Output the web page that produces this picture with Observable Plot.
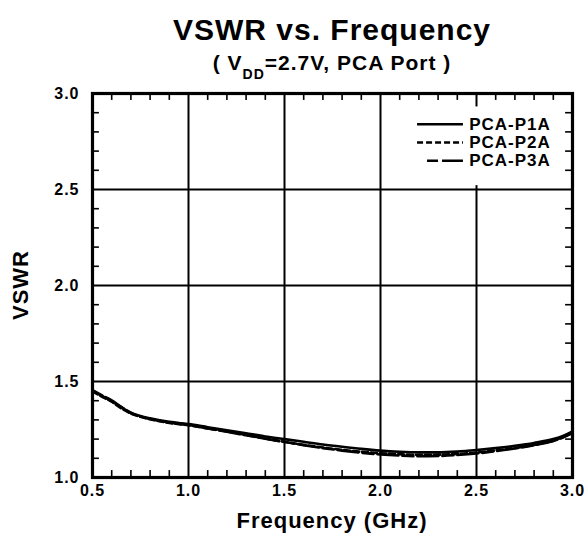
<!DOCTYPE html>
<html><head><meta charset="utf-8">
<script src="https://cdn.jsdelivr.net/npm/d3@7"></script>
<script src="https://cdn.jsdelivr.net/npm/@observablehq/plot@0.6"></script>
<style>
body{margin:0;background:#fff;}
#chart svg{font-family:"Liberation Sans",Arial,sans-serif;letter-spacing:1px;}
</style></head><body><div id="chart"></div>
<script>
// ---- data ----
const freq    = [0.5,0.55,0.6,0.65,0.7,0.75,0.8,0.85,0.9,0.95,1.0,1.1,1.2,1.3,1.4,1.5,1.6,1.7,1.8,1.9,2.0,2.1,2.2,2.3,2.4,2.5,2.6,2.7,2.8,2.9,2.95,3.0];
const vswrP1A = [1.452,1.425,1.398,1.365,1.338,1.320,1.308,1.298,1.290,1.284,1.278,1.262,1.246,1.230,1.214,1.200,1.186,1.172,1.160,1.149,1.140,1.134,1.131,1.131,1.135,1.143,1.153,1.165,1.180,1.200,1.216,1.240];
const vswrP2A = [1.448,1.420,1.395,1.360,1.333,1.316,1.303,1.293,1.284,1.278,1.272,1.256,1.240,1.222,1.203,1.186,1.170,1.156,1.144,1.134,1.126,1.121,1.118,1.119,1.123,1.130,1.141,1.154,1.170,1.192,1.210,1.235];
const vswrP3A = [1.455,1.428,1.402,1.368,1.336,1.318,1.305,1.295,1.286,1.279,1.273,1.255,1.238,1.220,1.202,1.185,1.168,1.153,1.140,1.129,1.120,1.114,1.111,1.112,1.117,1.125,1.137,1.151,1.168,1.190,1.208,1.232];
const seriesNames = ["PCA-P1A","PCA-P2A","PCA-P3A"];
const seriesValues = [vswrP1A, vswrP2A, vswrP3A];
const xTicks = [0.5,1.0,1.5,2.0,2.5,3.0];
const yTicks = [1.0,1.5,2.0,2.5,3.0];
const xMinor = [0.6,0.7,0.8,0.9,1.1,1.2,1.3,1.4,1.6,1.7,1.8,1.9,2.1,2.2,2.3,2.4,2.6,2.7,2.8,2.9];
const yMinor = [1.1,1.2,1.3,1.4,1.6,1.7,1.8,1.9,2.1,2.2,2.3,2.4,2.6,2.7,2.8,2.9];
const titleText = "VSWR vs. Frequency";
const subtitleParts = ["( V", "DD", "=2.7V, PCA Port )"];
const xLabel = "Frequency (GHz)";
const yLabel = "VSWR";

// ---- style ----
const dashes = [null, "6,3", "11,4,21,4"];
const W = 587, H = 536, mL = 92, mR = 15, mT = 93, mB = 59;
const tickLen = 0.036;
// legend layout (data units)
const legRowY = [2.84, 2.745, 2.65];
const legX1 = 2.193, legX2 = 2.432, legX2start3 = 2.245, legTextX = 2.462;

const rows = seriesNames.map((name, s) => freq.map((f, i) => ({series: name, f, v: seriesValues[s][i]})));
const legendRows = seriesNames.map((name, i) => ({name, y: legRowY[i], x1: i === 2 ? legX2start3 : legX1, x2: legX2}));

const marks = [
  Plot.ruleX(xTicks.slice(1, -1), {stroke: "#000", strokeWidth: 2}),
  Plot.ruleY(yTicks.slice(1, -1), {stroke: "#000", strokeWidth: 2}),
  Plot.rect([{}], {x1: 2.15, x2: 2.93, y1: 2.52, y2: 2.93, fill: "#fff"}),
  Plot.ruleX(xMinor, {y1: 1.0, y2: 1.0 + tickLen, stroke: "#000", strokeWidth: 1.6}),
  Plot.ruleX(xMinor, {y1: 3.0 - tickLen, y2: 3.0, stroke: "#000", strokeWidth: 1.6}),
  Plot.ruleY(yMinor, {x1: 0.5, x2: 0.5 + tickLen, stroke: "#000", strokeWidth: 1.6}),
  Plot.ruleY(yMinor, {x1: 3.0 - tickLen, x2: 3.0, stroke: "#000", strokeWidth: 1.6}),
  ...rows.map((r, s) => Plot.line(r, {x: "f", y: "v", stroke: "#000", strokeWidth: 2.6, strokeDasharray: dashes[s], curve: "monotone-x"})),
  ...legendRows.map((r, i) => Plot.ruleY([r], {y: "y", x1: "x1", x2: "x2", stroke: "#000", strokeWidth: 2.6, strokeDasharray: dashes[i]})),
  Plot.text(legendRows, {x: legTextX, y: "y", text: "name", textAnchor: "start", fontSize: 17, fontWeight: "bold", fill: "#000"}),
  Plot.axisX(xTicks, {tickSize: 0, tickPadding: 7, tickFormat: d => d.toFixed(1), fontSize: 16, fontWeight: "bold", fill: "#000", label: null}),
  Plot.axisY(yTicks, {tickSize: 0, tickPadding: 13, tickFormat: d => d.toFixed(1), fontSize: 16, fontWeight: "bold", fill: "#000", label: null}),
  Plot.frame({stroke: "#000", strokeWidth: 3.2})
];

const plot = Plot.plot({
  width: W, height: H,
  marginLeft: mL, marginRight: mR, marginTop: mT, marginBottom: mB,
  x: {domain: [0.5, 3.0]},
  y: {domain: [1.0, 3.0]},
  style: {background: "#fff", color: "#000", overflow: "visible"},
  marks
});
document.getElementById("chart").appendChild(plot);

// titles & axis labels
const svg = d3.select(plot);
const cx = (mL + W - mR) / 2;
svg.append("text").attr("x", cx).attr("y", 40).attr("text-anchor", "middle")
  .attr("font-size", 30).attr("font-weight", "bold").attr("fill", "#000").text(titleText);
const sub = svg.append("text").attr("x", cx).attr("y", 70).attr("text-anchor", "middle")
  .attr("font-size", 21).attr("font-weight", "bold").attr("fill", "#000");
sub.append("tspan").text(subtitleParts[0]);
sub.append("tspan").attr("font-size", 14).attr("dy", 9).text(subtitleParts[1]);
sub.append("tspan").attr("dy", -9).text(subtitleParts[2]);
svg.append("text").attr("x", cx).attr("y", 528).attr("text-anchor", "middle")
  .attr("font-size", 22).attr("font-weight", "bold").attr("fill", "#000").text(xLabel);
svg.append("text").attr("transform", `translate(28,${(mT + H - mB) / 2}) rotate(-90)`).attr("text-anchor", "middle")
  .attr("font-size", 22).attr("font-weight", "bold").attr("fill", "#000").text(yLabel);
</script></body></html>
